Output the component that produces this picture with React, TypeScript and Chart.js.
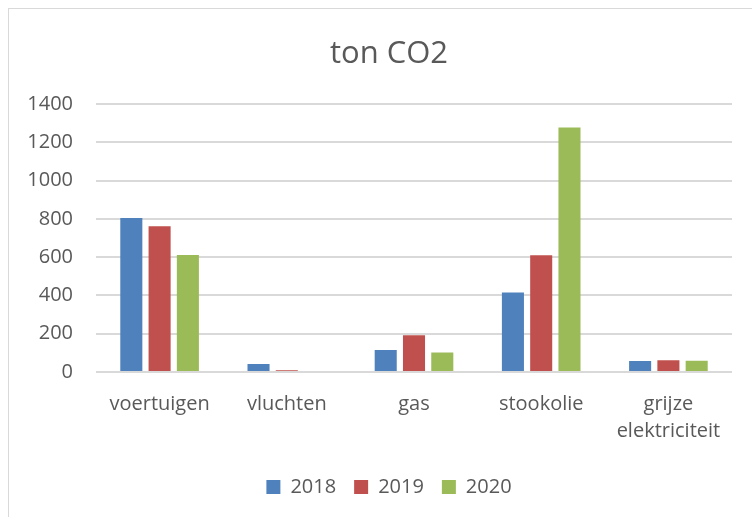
import React, { useEffect, useRef } from "react";
import { Chart, registerables } from "chart.js";

Chart.register(...registerables);

const categories: (string | string[])[] = ["voertuigen", "vluchten", "gas", "stookolie", ["grijze", "elektriciteit"]];
const seriesLabels = ["2018", "2019", "2020"];
const values2018 = [805, 42, 115, 415, 58];
const values2019 = [762, 9, 192, 610, 61];
const values2020 = [612, 0, 102, 1278, 59];
const seriesColors = ["#4F81BD", "#C0504D", "#9BBB59"];
const yTicks = [0, 200, 400, 600, 800, 1000, 1200, 1400];

const FONT = "'Open Sans', 'Noto Sans', sans-serif";
const TEXT = "#595959";

export default function App() {
  const ref = useRef<HTMLCanvasElement | null>(null);
  useEffect(() => {
    if (!ref.current) return;
    const data = [values2018, values2019, values2020];
    const chart = new Chart(ref.current, {
      type: "bar",
      data: {
        labels: categories as any,
        datasets: seriesLabels.map((l, i) => ({
          label: l,
          data: data[i],
          backgroundColor: seriesColors[i],
          borderWidth: 0,
          categoryPercentage: 0.667,
          barPercentage: 0.78,
        })),
      },
      options: {
        animation: false,
        responsive: false,
        maintainAspectRatio: false,
        layout: { padding: { left: 0, right: 0, top: 0, bottom: 22 } },
        plugins: {
          title: {
            display: true,
            text: "ton CO2",
            color: TEXT,
            font: { family: FONT, size: 31, weight: "normal", lineHeight: 1.2 },
            padding: { top: 27, bottom: 31 },
          },
          legend: {
            position: "bottom",
            labels: {
              color: TEXT,
              font: { family: FONT, size: 20 },
              boxWidth: 14,
              boxHeight: 14,
              padding: 18,
            },
          },
          tooltip: { enabled: false },
        },
        scales: {
          x: {
            grid: { display: false, drawTicks: false },
            border: { display: false },
            ticks: {
              color: TEXT,
              font: { family: FONT, size: 20, lineHeight: 1.33 },
              padding: 19,
              maxRotation: 0,
              autoSkip: false,
            },
            afterFit: (s: any) => {
              s.height = 87;
            },
          },
          y: {
            min: 0,
            max: 1400,
            afterBuildTicks: (s: any) => {
              s.ticks = yTicks.map((v) => ({ value: v }));
            },
            grid: { color: "#d9d9d9", lineWidth: 2, drawTicks: false },
            border: { display: false },
            ticks: {
              color: TEXT,
              font: { family: FONT, size: 20 },
              padding: 23,
              callback: (v: any) => String(v),
            },
            afterFit: (s: any) => {
              s.width = 87;
            },
          },
          yRight: {
            type: "linear",
            position: "right",
            min: 0,
            max: 1400,
            grid: { display: false, drawTicks: false },
            border: { display: false },
            ticks: { display: false },
            afterFit: (s: any) => {
              s.width = 37;
            },
          },
        },
      },
    });
    return () => chart.destroy();
  }, []);
  return (
    <div style={{ position: "fixed", inset: 0, overflow: "hidden", background: "#fff" }}>
      <div
        style={{
          position: "absolute",
          left: 8,
          top: 8,
          width: 760,
          height: 520,
          border: "1px solid #d9d9d9",
          background: "#fff",
        }}
      >
        <canvas ref={ref} width={760} height={520} style={{ display: "block" }} />
      </div>
    </div>
  );
}
